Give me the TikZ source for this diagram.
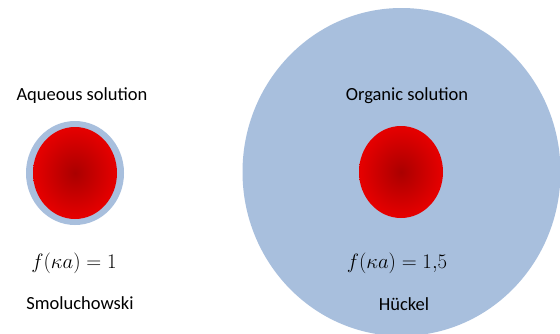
\documentclass[tikz,border=0pt]{standalone}
\usepackage{fontspec}
\setmainfont{Carlito}
\usetikzlibrary{shapes.geometric}
\definecolor{solv}{RGB}{168,191,221}
\definecolor{rcore}{RGB}{170,0,0}
\definecolor{rmid}{RGB}{228,0,0}
\definecolor{redge}{RGB}{236,0,0}
\pgfdeclareradialshading{redball}{\pgfpoint{0bp}{0bp}}{color(0bp)=(rcore); color(24bp)=(rmid); color(50bp)=(redge); color(80bp)=(redge)}
\begin{document}
\begin{tikzpicture}[x=1pt,y=-1pt,
  lbl/.style={inner sep=0pt, font=\fontsize{18.5}{22}\selectfont},
  eq/.style={inner sep=0pt, font=\fontsize{22.5}{26}\selectfont},
  shell/.style={ellipse, fill=solv, draw=none, inner sep=0pt},
  particle/.style={ellipse, shading=redball, draw=none, inner sep=0pt, minimum width=84pt, minimum height=92pt}]
\useasboundingbox (0,0) rectangle (560,333);
\clip (0,0) rectangle (560,333);
\fill[white] (0,0) rectangle (560,333);
% organic solvent sphere
\node[shell, minimum width=318pt, minimum height=328pt] (org) at (401.5,172) {};
\node[particle] (p2) at (401,172) {};
% aqueous particle with thin shell
\node[shell, minimum width=98pt, minimum height=104pt] (aq) at (75,173) {};
\node[particle] (p1) at (75,173) {};
% labels
\node[lbl] (t1) at (82,96) {Aqueous solution};
\node[eq] (e1) at (74,263) {$f(\kappa a)=1$};
\node[lbl] (s1) at (80,303) {Smoluchowski};
\node[lbl] (t2) at (407,96) {Organic solution};
\node[eq] (e2) at (397,263) {$f(\kappa a)=1{,}5$};
\node[lbl] (s2) at (404,304) {Hückel};
\end{tikzpicture}
\end{document}
